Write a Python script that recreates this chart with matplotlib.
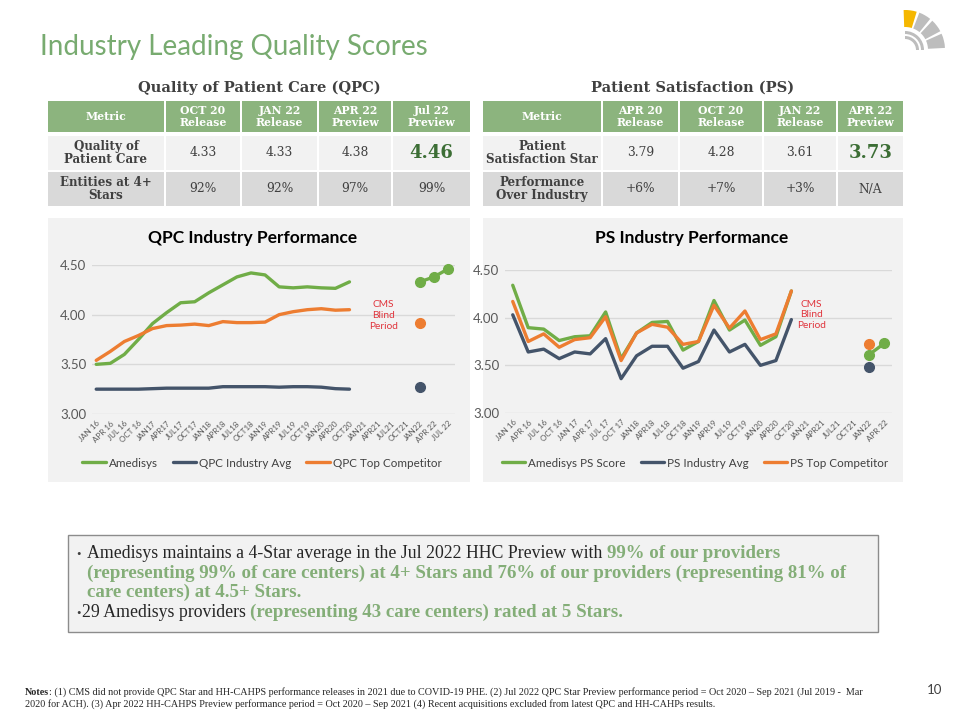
import matplotlib
matplotlib.use("Agg")
import matplotlib.pyplot as plt
from matplotlib.patches import Rectangle, Wedge
import numpy as np

# ---- chart data ----
qpc_dates = ["JAN 16", "APR 16", "JUL 16", "OCT 16", "JAN17", "APR17", "JUL17", "OCT17",
             "JAN18", "APR18", "JUL18", "OCT18", "JAN19", "APR19", "JUL19", "OCT19",
             "JAN20", "APR20", "OCT20", "JAN21", "APR21", "JUL21", "OCT21", "JAN22",
             "APR 22", "JUL 22"]
qpc_amedisys = [3.50, 3.51, 3.60, 3.75, 3.91, 4.02, 4.12, 4.13, 4.22, 4.30, 4.38, 4.42, 4.40,
                4.28, 4.27, 4.28, 4.27, 4.265, 4.33, None, None, None, None, 4.33, 4.38, 4.46]
qpc_industry = [3.25, 3.25, 3.25, 3.25, 3.255, 3.26, 3.26, 3.26, 3.26, 3.275, 3.275, 3.275,
                3.275, 3.27, 3.275, 3.275, 3.27, 3.255, 3.25, None, None, None, None, 3.27,
                None, None]
qpc_top = [3.54, 3.63, 3.73, 3.79, 3.86, 3.89, 3.895, 3.905, 3.89, 3.93, 3.92, 3.92, 3.925,
           4.00, 4.03, 4.05, 4.06, 4.045, 4.05, None, None, None, None, 3.92, None, None]
qpc_labels = ["Amedisys", "QPC Industry Avg", "QPC Top Competitor"]

ps_dates = ["JAN 16", "APR 16", "JUL 16", "OCT 16", "JAN 17", "APR 17", "JUL 17", "OCT 17",
            "JAN18", "APR18", "JUL18", "OCT18", "JAN19", "APR19", "JUL19", "OCT19",
            "JAN20", "APR20", "OCT20", "JAN21", "APR21", "JUL21", "OCT21", "JAN22", "APR 22"]
ps_amedisys = [4.34, 3.895, 3.88, 3.76, 3.80, 3.81, 4.06, 3.57, 3.84, 3.95, 3.96, 3.66, 3.75,
               4.18, 3.87, 3.975, 3.71, 3.80, 4.28, None, None, None, None, 3.61, 3.73]
ps_industry = [4.03, 3.64, 3.67, 3.57, 3.64, 3.62, 3.78, 3.36, 3.60, 3.70, 3.70, 3.47, 3.54,
               3.87, 3.64, 3.72, 3.50, 3.55, 3.98, None, None, None, None, 3.48, None]
ps_top = [4.17, 3.75, 3.83, 3.69, 3.77, 3.79, 4.01, 3.55, 3.84, 3.93, 3.90, 3.72, 3.75,
          4.13, 3.89, 4.07, 3.77, 3.83, 4.28, None, None, None, None, 3.72, None]
ps_labels = ["Amedisys PS Score", "PS Industry Avg", "PS Top Competitor"]

y_ticks = [3.00, 3.50, 4.00, 4.50]

# ---- table data ----
qpc_cols = ["Metric", "OCT 20\nRelease", "JAN 22\nRelease", "APR 22\nPreview", "Jul 22\nPreview"]
qpc_rows = ["Quality of\nPatient Care", "Entities at 4+\nStars"]
qpc_vals = [["4.33", "4.33", "4.38", "4.46"], ["92%", "92%", "97%", "99%"]]

ps_cols = ["Metric", "APR 20\nRelease", "OCT 20\nRelease", "JAN 22\nRelease", "APR 22\nPreview"]
ps_rows = ["Patient\nSatisfaction Star", "Performance\nOver Industry"]
ps_vals = [["3.79", "4.28", "3.61", "3.73"], ["+6%", "+7%", "+3%", "N/A"]]

GREEN = "#70ad47"
NAVY = "#44546a"
ORANGE = "#ed7d31"
HEAD = "#8cb47e"
TXT = "#404040"
SERIF = "DejaVu Serif"
SANS = "Lato"

fig = plt.figure(figsize=(9.6, 7.2), dpi=100)
fig.patch.set_facecolor("white")

# background axes in pixel units (y downwards)
bg = fig.add_axes([0, 0, 1, 1])
bg.set_xlim(0, 960)
bg.set_ylim(720, 0)
bg.axis("off")

# title + logo
bg.text(40, 47, "Industry Leading Quality Scores", fontsize=20, color="#78ab70",
        family=SANS, fontweight="normal", va="center", ha="left")
cx, cy = 905, 50
for i, (t1, t2) in enumerate([(3, 24), (28, 47), (51, 69), (73, 92)]):
    col = "#f5b700" if i == 3 else "#bdbdbd"
    bg.add_patch(Wedge((cx, cy), 40, -t2, -t1, width=17, fc=col, ec="none"))
for r, w in [(19, 3), (14, 3)]:
    bg.add_patch(Wedge((cx, cy), r, -90, 0, width=w, fc="#bdbdbd", ec="none"))


def draw_table(x_edges, cols, rows, vals, title):
    y_edges = [(101, 132), (136, 170), (172, 206)]
    bg.text((x_edges[0][0] + x_edges[-1][1]) / 2, 88, title, fontsize=10.5,
            fontweight="bold", family=SERIF, color=TXT, ha="center", va="center")
    fills = [HEAD, "#f2f2f2", "#d9d9d9"]
    for ri, (y0, y1) in enumerate(y_edges):
        for ci, (x0, x1) in enumerate(x_edges):
            bg.add_patch(Rectangle((x0, y0), x1 - x0, y1 - y0, fc=fills[ri], ec="none"))
            xm, ym = (x0 + x1) / 2, (y0 + y1) / 2
            if ri == 0:
                bg.text(xm, ym, cols[ci], color="white", fontsize=7.8, fontweight="bold",
                        family=SERIF, ha="center", va="center", linespacing=1.05)
            elif ci == 0:
                bg.text(xm, ym, rows[ri - 1], color=TXT, fontsize=8.6, fontweight="bold",
                        family=SERIF, ha="center", va="center", linespacing=1.05)
            else:
                v = vals[ri - 1][ci - 1]
                if ri == 1 and ci == len(x_edges) - 1:
                    bg.text(xm, ym, v, color="#3c6e35", fontsize=13, fontweight="bold",
                            family=SERIF, ha="center", va="center")
                else:
                    bg.text(xm, ym, v, color=TXT, fontsize=8.8, family=SERIF,
                            ha="center", va="center")


draw_table([(48, 164), (166, 240), (242, 317), (319, 391), (393, 470)],
           qpc_cols, qpc_rows, qpc_vals, "Quality of Patient Care (QPC)")
draw_table([(483, 601), (603, 678), (680, 762), (764, 836), (838, 903)],
           ps_cols, ps_rows, ps_vals, "Patient Satisfaction (PS)")

# chart panels
bg.add_patch(Rectangle((48, 218), 422, 264, fc="#f2f2f2", ec="none"))
bg.add_patch(Rectangle((483, 218), 420, 264, fc="#f2f2f2", ec="none"))


def draw_chart(rect, dates, series, labels, xlim, title, tx, cms_xy, leg_x):
    ax = fig.add_axes(rect)
    ax.set_facecolor("none")
    x = np.arange(len(dates))
    pv = dates.index("JAN22")
    handles = []
    for s, col, lab in zip(series, [GREEN, NAVY, ORANGE], labels):
        y = np.array([np.nan if v is None else v for v in s], dtype=float)
        h, = ax.plot(x[:pv], y[:pv], color=col, lw=2.4, solid_capstyle="round",
                     solid_joinstyle="round", label=lab, zorder=3)
        ax.plot(x[pv:], y[pv:], color=col, lw=2.4, marker="o", ms=7, clip_on=False,
                zorder=4)
        handles.append(h)
    ax.set_xlim(*xlim)
    ax.set_ylim(3.0, 4.5)
    ax.set_yticks(y_ticks)
    ax.set_yticklabels([f"{v:.2f}" for v in y_ticks])
    ax.set_xticks(x)
    ax.set_xticklabels(dates, rotation=45, ha="right", rotation_mode="anchor")
    for lab in ax.get_xticklabels():
        lab.set_fontsize(5.8)
        lab.set_color("#595959")
        lab.set_family(SANS)
    for lab in ax.get_yticklabels():
        lab.set_fontsize(9.5)
        lab.set_color("#595959")
        lab.set_family(SANS)
    ax.tick_params(length=0, pad=4)
    ax.grid(axis="y", color="#d9d9d9", lw=1)
    ax.set_axisbelow(True)
    for sp in ax.spines.values():
        sp.set_visible(False)
    ax.text(cms_xy[0], cms_xy[1], "CMS\nBlind\nPeriod", color="#e0343c", fontsize=7.3,
            family=SANS, ha="center", va="center", linespacing=1.25)
    bg.text(tx, 238, title, fontsize=12.5, fontweight="bold", family=SANS, color="black",
            ha="center", va="center")
    leg = fig.legend(handles, labels, loc="center",
                     bbox_to_anchor=(leg_x / 960, 1 - 463 / 720), ncol=3,
                     frameon=False, handlelength=2.0, handletextpad=0.25,
                     columnspacing=1.3, prop={"family": SANS, "size": 8.4})
    for t in leg.get_texts():
        t.set_color(TXT)
    return ax


draw_chart([92 / 960, 1 - 414 / 720, 363 / 960, 149 / 720], qpc_dates,
           [qpc_amedisys, qpc_industry, qpc_top], qpc_labels, (-0.3, 25.5),
           "QPC Industry Performance", 253, (20.4, 3.99), 262)
draw_chart([505 / 960, 1 - 413 / 720, 387 / 960, 143 / 720], ps_dates,
           [ps_amedisys, ps_industry, ps_top], ps_labels, (-0.5, 24.5),
           "PS Industry Performance", 692, (19.3, 4.03), 695)

# text box
bg.add_patch(Rectangle((68, 535), 810, 97, fc="#f2f2f2", ec="#8c8c8c", lw=1))
renderer = fig.canvas.get_renderer()
BOX_GREEN = "#84ae78"
BOX_SIZE = 12.8
BOX_FONT = "Liberation Serif"


def put_runs(x, y, runs, size, family, space):
    for text, color, weight in runs:
        fs = size * 1.06 if weight == "bold" and family == BOX_FONT and size > 10 else size
        t = bg.text(x, y, text, color=color, fontsize=fs, fontweight=weight,
                    family=family, ha="left", va="baseline")
        x += t.get_window_extent(renderer=renderer).width + space


sp = BOX_SIZE * 0.25 * 100 / 72
bg.text(76, 558, "•", fontsize=9, color=TXT, family=BOX_FONT, va="baseline", ha="left")
put_runs(87, 558, [("Amedisys maintains a 4-Star average in the Jul 2022 HHC Preview with",
                    "#262626", "normal"),
                   ("99% of our providers", BOX_GREEN, "bold")], BOX_SIZE, BOX_FONT, sp)
put_runs(87, 578, [("(representing 99% of care centers) at 4+ Stars and 76% of our providers "
                    "(representing 81% of", BOX_GREEN, "bold")], BOX_SIZE, BOX_FONT, sp)
put_runs(87, 597, [("care centers) at 4.5+ Stars.", BOX_GREEN, "bold")], BOX_SIZE, BOX_FONT, sp)
bg.text(76, 617, "•", fontsize=9, color=TXT, family=BOX_FONT, va="baseline", ha="left")
put_runs(82, 617, [("29 Amedisys providers", "#262626", "normal"),
                   ("(representing 43 care centers) rated at 5 Stars.", BOX_GREEN, "bold")],
         BOX_SIZE, BOX_FONT, sp)

# notes
NOTE_SIZE = 7.3
put_runs(25, 695, [("Notes", "#262626", "bold"),
                   (": (1) CMS did not provide QPC Star and HH-CAHPS performance releases in "
                    "2021 due to COVID-19 PHE. (2) Jul 2022 QPC Star Preview performance period "
                    "= Oct 2020 \u2013 Sep 2021 (Jul 2019 -  Mar", "#262626", "normal")],
         NOTE_SIZE, BOX_FONT, 0)
put_runs(25, 707, [("2020 for ACH). (3) Apr 2022 HH-CAHPS Preview performance period = Oct "
                    "2020 \u2013 Sep 2021 (4) Recent acquisitions excluded from latest QPC and "
                    "HH-CAHPs results.", "#262626", "normal")], NOTE_SIZE, BOX_FONT, 0)
bg.text(935, 690, "10", fontsize=9.5, color=TXT, family=SANS, ha="center", va="center")

fig.savefig("out.png", dpi=100)
